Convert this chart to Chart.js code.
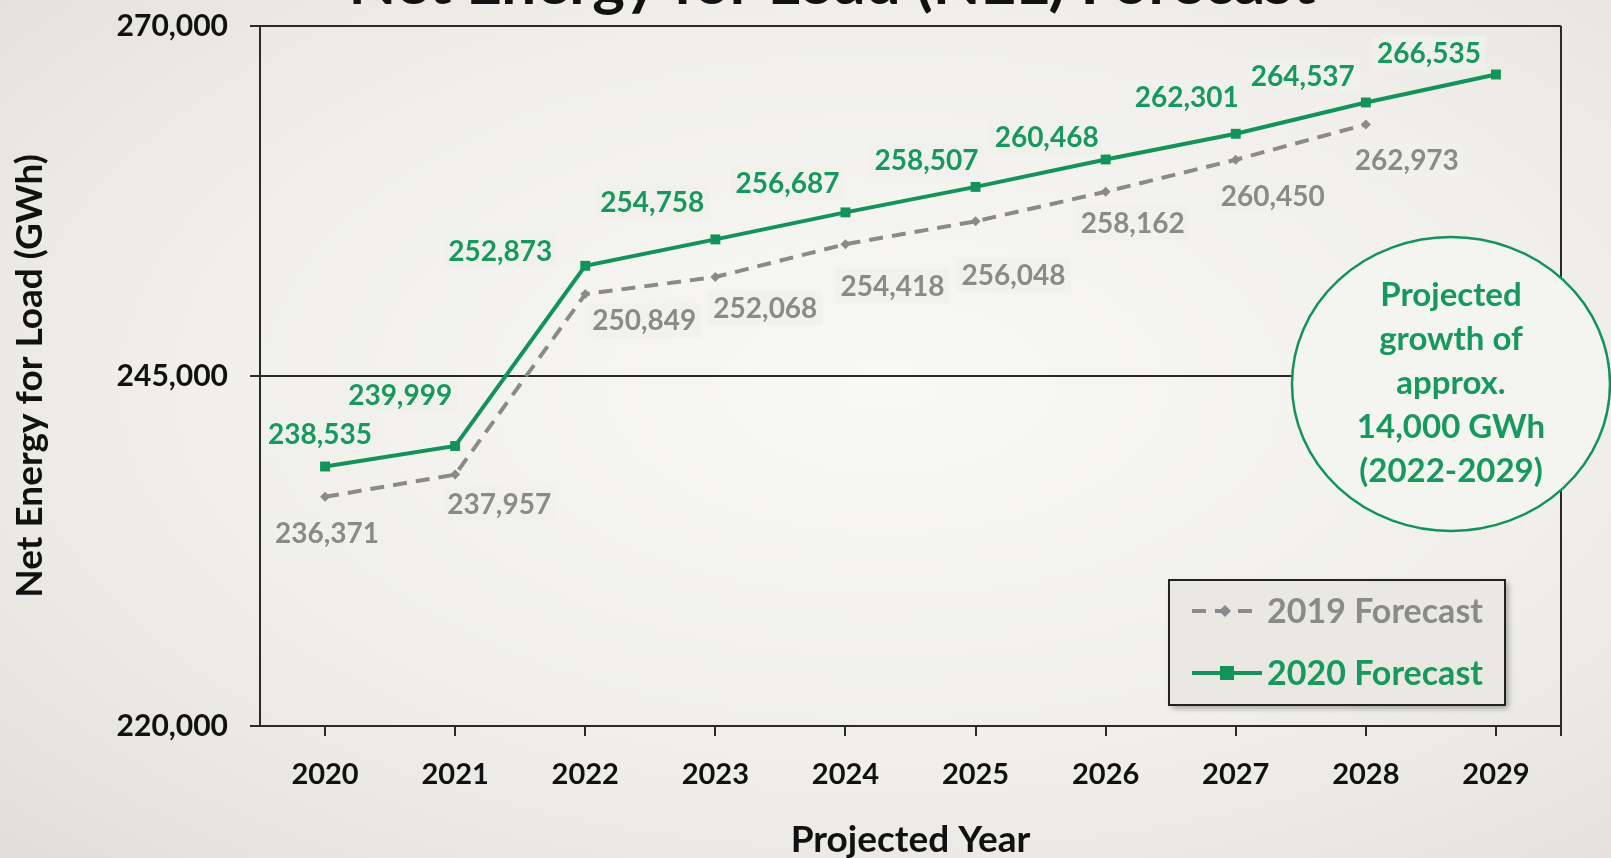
<!DOCTYPE html>
<html>
<head>
<meta charset="utf-8">
<script src="https://cdn.jsdelivr.net/npm/chart.js@4.4.1/dist/chart.umd.min.js"></script>
<style>
	html, body { margin: 0; padding: 0; }
	body {
		width: 1611px; height: 858px; overflow: hidden;
		background: radial-gradient(ellipse at 55% 45%, #f8f8f5 0%, #f0efeb 55%, #e0dfd7 100%);
	}
	#wrap { position: relative; width: 1611px; height: 858px; }
</style>
</head>
<body>
<div id="wrap"><canvas id="nelChart"></canvas></div>
<script>
// 数据
const years = ['2020', '2021', '2022', '2023', '2024', '2025', '2026', '2027', '2028', '2029'];
const forecast2019 = [236371, 237957, 250849, 252068, 254418, 256048, 258162, 260450, 262973, null];
const forecast2020 = [238535, 239999, 252873, 254758, 256687, 258507, 260468, 262301, 264537, 266535];
const yTicks = [220000, 245000, 270000];
const noteLines = ['Projected', 'growth of', 'approx.', '14,000 GWh', '(2022-2029)'];

const FONT = 'Lato, "DejaVu Sans", sans-serif';
const GREEN = '#13925a';
const GREEN_TEXT = '#17985c';
const GREY = '#8a8a8a';
const AXIS = '#2a2a2a';

// label offsets from each point (px)
const greenOffsets = [[-5, -33], [-55, -51], [-85, -15], [-63, -37], [-58, -29], [-49, -27], [-59, -22], [-49, -37], [-63, -27], [-67, -22]];
const greyOffsets = [[2, 36], [44, 29], [59, 26], [50, 31], [47, 42], [38, 54], [27, 31], [37, 36], [41, 36], [0, 0]];

const fmt = (v) => v.toLocaleString('en-US');

const labelPlugin = {
	id: 'pointLabels',
	afterDatasetsDraw(chart) {
		const ctx = chart.ctx;
		ctx.save();
		ctx.font = `bold 28px ${FONT}`;
		ctx.textAlign = 'center';
		ctx.textBaseline = 'middle';
		chart.data.datasets.forEach((ds, di) => {
			const meta = chart.getDatasetMeta(di);
			const offs = ds.label === '2020 Forecast' ? greenOffsets : greyOffsets;
			meta.data.forEach((pt, i) => {
				const v = ds.data[i];
				if (v === null) return;
				const x = pt.x + offs[i][0];
				const y = pt.y + offs[i][1];
				const txt = fmt(v);
				const w = ctx.measureText(txt).width;
				ctx.fillStyle = 'rgba(240,240,236,0.85)';
				ctx.fillRect(x - w / 2 - 5, y - 17, w + 10, 34);
				ctx.fillStyle = ds.label === '2020 Forecast' ? GREEN_TEXT : GREY;
				ctx.fillText(txt, x, y + 1);
			});
		});
		ctx.restore();
	}
};

const decorPlugin = {
	id: 'decor',
	afterDraw(chart) {
		const ctx = chart.ctx;
		const area = chart.chartArea;
		ctx.save();

		// right border of plot box
		ctx.strokeStyle = AXIS;
		ctx.lineWidth = 2;
		ctx.beginPath();
		ctx.moveTo(area.right, area.top);
		ctx.lineTo(area.right, area.bottom + 10);
		ctx.stroke();

		// title (cut off at top in the original)
		ctx.fillStyle = '#111';
		ctx.font = `bold 62px ${FONT}`;
		ctx.textAlign = 'center';
		ctx.textBaseline = 'alphabetic';
		ctx.fillText('Net Energy for Load (NEL) Forecast', 832, 4);

		// growth note ellipse
		ctx.beginPath();
		ctx.ellipse(1451, 384, 159, 147, 0, 0, Math.PI * 2);
		ctx.fillStyle = '#f4f4f1';
		ctx.fill();
		ctx.strokeStyle = GREEN;
		ctx.lineWidth = 2.5;
		ctx.stroke();
		ctx.fillStyle = GREEN_TEXT;
		ctx.font = `bold 33px ${FONT}`;
		ctx.textBaseline = 'middle';
		noteLines.forEach((t, i) => ctx.fillText(t, 1451, 295 + i * 44));

		// legend box
		const lx = 1169, ly = 580, lw = 336, lh = 125;
		ctx.shadowColor = 'rgba(0,0,0,0.35)';
		ctx.shadowBlur = 6;
		ctx.shadowOffsetX = 3;
		ctx.shadowOffsetY = 3;
		ctx.fillStyle = '#e9e8e3';
		ctx.fillRect(lx, ly, lw, lh);
		ctx.shadowColor = 'transparent';
		ctx.strokeStyle = '#222';
		ctx.lineWidth = 2;
		ctx.strokeRect(lx, ly, lw, lh);

		ctx.textAlign = 'left';
		ctx.font = `bold 34px ${FONT}`;
		// 2019 entry
		ctx.strokeStyle = GREY;
		ctx.lineWidth = 4;
		ctx.setLineDash([14, 9]);
		ctx.beginPath();
		ctx.moveTo(1192, 611);
		ctx.lineTo(1258, 611);
		ctx.stroke();
		ctx.setLineDash([]);
		ctx.fillStyle = GREY;
		ctx.beginPath();
		ctx.moveTo(1225, 605); ctx.lineTo(1231, 611); ctx.lineTo(1225, 617); ctx.lineTo(1219, 611);
		ctx.fill();
		ctx.fillText('2019 Forecast', 1267, 612);
		// 2020 entry
		ctx.strokeStyle = GREEN;
		ctx.beginPath();
		ctx.moveTo(1192, 673);
		ctx.lineTo(1262, 673);
		ctx.stroke();
		ctx.fillStyle = GREEN;
		ctx.fillRect(1220, 666, 14, 14);
		ctx.fillStyle = GREEN_TEXT;
		ctx.fillText('2020 Forecast', 1267, 674);

		ctx.restore();
	}
};

const ctx = document.getElementById('nelChart').getContext('2d');

const chart = new Chart(ctx, {
	type: 'line',
	data: {
		labels: years,
		datasets: [
			{
				label: '2020 Forecast',
				data: forecast2020,
				borderColor: GREEN,
				backgroundColor: GREEN,
				borderWidth: 4,
				pointStyle: 'rect',
				pointRadius: 7,
				pointBorderWidth: 0,
				tension: 0,
				order: 0
			},
			{
				label: '2019 Forecast',
				data: forecast2019,
				borderColor: GREY,
				backgroundColor: GREY,
				borderWidth: 4,
				borderDash: [14, 9],
				pointStyle: 'rectRot',
				pointRadius: 5,
				pointBorderWidth: 0,
				tension: 0,
				order: 1
			}
		]
	},
	options: {
		responsive: true,
		maintainAspectRatio: false,
		animation: false,
		layout: { padding: { left: 4, right: 50, top: 26, bottom: 0 } },
		plugins: {
			legend: { display: false },
			tooltip: { enabled: false }
		},
		scales: {
			x: {
				offset: true,
				grid: { drawOnChartArea: false, color: AXIS, lineWidth: 2, tickLength: 10 },
				border: { display: true, color: AXIS, width: 2 },
				ticks: { color: '#111', font: { family: FONT, size: 29, weight: 'bold' }, padding: 21, maxRotation: 0 },
				title: { display: true, text: 'Projected Year', color: '#111', font: { family: FONT, size: 37, weight: 'bold' }, padding: { top: 2, bottom: -4 } },
				afterFit: (scale) => { scale.height = 132; }
			},
			y: {
				min: yTicks[0],
				max: yTicks[yTicks.length - 1],
				afterBuildTicks: (scale) => { scale.ticks = yTicks.map(v => ({ value: v })); },
				grid: { color: AXIS, lineWidth: 2, tickLength: 10 },
				border: { display: true, color: AXIS, width: 2 },
				ticks: { color: '#111', font: { family: FONT, size: 30, weight: 'bold' }, padding: 22, callback: (v) => fmt(v) },
				title: { display: true, text: 'Net Energy for Load (GWh)', color: '#111', font: { family: FONT, size: 37, weight: 'bold' }, padding: { top: 4, bottom: 0 } },
				afterFit: (scale) => { scale.width = 256; scale.paddingTop = 0; scale.paddingBottom = 0; }
			}
		}
	},
	plugins: [labelPlugin, decorPlugin]
});
</script>
</body>
</html>
